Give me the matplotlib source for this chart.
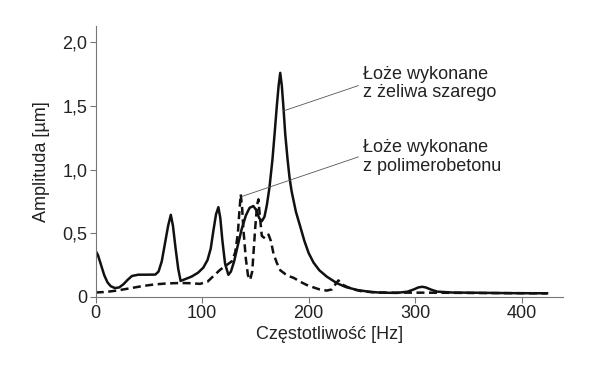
import matplotlib
matplotlib.use("Agg")
import matplotlib.pyplot as plt

plt.rcParams['font.family'] = ['Liberation Sans', 'DejaVu Sans']

# Łoże z żeliwa szarego (solid)
freq_zeliwo = [0, 2, 5, 8, 11, 14, 18, 22, 26, 30, 34, 40, 48, 56, 59, 62, 65, 68, 70.5,
               72.5, 75, 77.5, 79.7, 84, 90, 96, 101, 105, 108, 110.5, 113, 115.2, 117,
               119, 121.5, 124.6, 127, 130, 133, 137, 141, 144.5, 148, 151, 153.5, 156,
               158.5, 160.7, 163.2, 166, 168, 170.1, 171.8, 173.3, 174.8, 176.4, 178,
               180.2, 182, 184, 188, 192, 196, 200, 204.6, 210, 217, 226.6, 235, 245.5,
               256, 267.4, 283, 293, 299, 303, 306.7, 310, 315, 320.8, 335, 360, 390, 424]
amp_zeliwo = [0.36, 0.33, 0.25, 0.17, 0.115, 0.085, 0.07, 0.075, 0.1, 0.135, 0.165, 0.175,
              0.175, 0.176, 0.2, 0.28, 0.42, 0.56, 0.645, 0.56, 0.38, 0.22, 0.126, 0.14,
              0.16, 0.19, 0.23, 0.29, 0.38, 0.52, 0.65, 0.705, 0.62, 0.44, 0.26, 0.174,
              0.2, 0.28, 0.39, 0.53, 0.64, 0.7, 0.714, 0.68, 0.62, 0.595, 0.63, 0.72,
              0.86, 1.08, 1.28, 1.5, 1.66, 1.76, 1.66, 1.48, 1.28, 1.08, 0.94, 0.83, 0.67,
              0.556, 0.44, 0.345, 0.27, 0.21, 0.16, 0.108, 0.078, 0.055, 0.042, 0.034,
              0.032, 0.042, 0.06, 0.075, 0.08, 0.075, 0.058, 0.042, 0.035, 0.033, 0.03,
              0.029]

# Łoże z polimerobetonu (dashed)
freq_polimer = [0, 10, 19.5, 30, 41.4, 50, 57, 65, 72.8, 80, 88.5, 97.9, 105, 110, 116.8,
                122, 127.8, 131, 133.5, 135, 136.2, 137.5, 138.7, 141, 143, 145, 147,
                149.7, 151.5, 152.8, 154, 156, 159, 162.3, 164.5, 167, 170, 173.3, 178,
                182.7, 186, 192, 198, 204.6, 210, 217, 222, 226, 228, 231, 236, 242, 248.6,
                260, 280, 300, 330, 360, 390, 424]
amp_polimer = [0.035, 0.04, 0.05, 0.065, 0.082, 0.093, 0.1, 0.105, 0.108, 0.11, 0.108,
               0.103, 0.12, 0.16, 0.213, 0.245, 0.28, 0.35, 0.5, 0.68, 0.806, 0.7, 0.53,
               0.3, 0.17, 0.134, 0.2, 0.53, 0.72, 0.767, 0.65, 0.48, 0.46, 0.49, 0.44,
               0.34, 0.27, 0.21, 0.18, 0.16, 0.15, 0.12, 0.095, 0.075, 0.06, 0.05, 0.06,
               0.11, 0.13, 0.1, 0.08, 0.06, 0.047, 0.037, 0.034, 0.034, 0.033, 0.031, 0.03,
               0.028]

x_ticks = [0, 100, 200, 300, 400]
y_ticks = [0, 0.5, 1.0, 1.5, 2.0]
y_ticklabels = ['0', '0,5', '1,0', '1,5', '2,0']

fig = plt.figure(figsize=(6.10, 3.68), dpi=100)
ax = fig.add_axes([0.157, 0.193, 0.766, 0.737])

ax.plot(freq_zeliwo, amp_zeliwo, color='#111111', lw=1.8, solid_joinstyle='round')
ax.plot(freq_polimer, amp_polimer, color='#111111', lw=1.8, dashes=(3.2, 1.8))

ax.set_xlim(0, 439)
ax.set_ylim(0, 2.13)
ax.set_xticks(x_ticks)
ax.set_yticks(y_ticks)
ax.set_yticklabels(y_ticklabels)

for side in ['top', 'right']:
    ax.spines[side].set_visible(False)
for side in ['left', 'bottom']:
    ax.spines[side].set_color('#777777')
    ax.spines[side].set_linewidth(0.8)
ax.tick_params(direction='out', length=4, width=0.8, color='#777777',
               labelsize=13, labelcolor='#222222', pad=2)

ax.set_xlabel('Częstotliwość [Hz]', fontsize=13, color='#222222', labelpad=3)
ax.set_ylabel('Amplituda [µm]', fontsize=13, color='#222222', labelpad=9)

# leader lines and labels
ax.plot([176, 246.7], [1.46, 1.66], color='#555555', lw=0.6)
ax.plot([137.5, 246.7], [0.79, 1.10], color='#555555', lw=0.6)
ax.text(251, 1.675, 'Łoże wykonane\nz żeliwa szarego', fontsize=13, color='#222222',
        va='center', ha='left', linespacing=1.1)
ax.text(251, 1.10, 'Łoże wykonane\nz polimerobetonu', fontsize=13, color='#222222',
        va='center', ha='left', linespacing=1.1)

fig.savefig('out.png', dpi=100, facecolor='white')
